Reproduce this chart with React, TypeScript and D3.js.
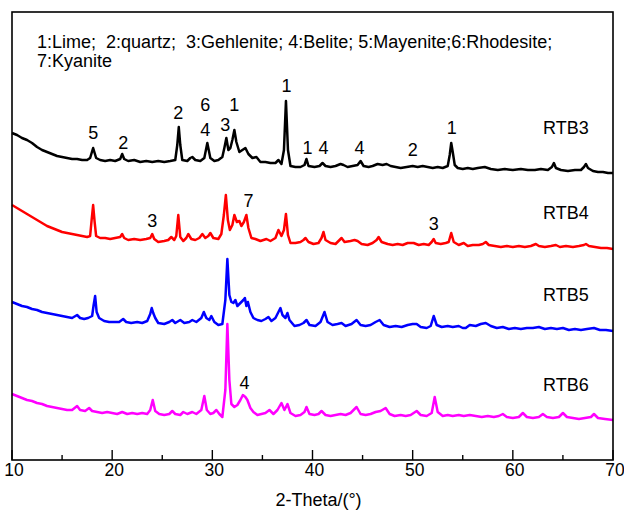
import React from "react";
import * as d3 from "d3";

// 2-Theta (deg) and intensity (a.u., stacked)
const rtb3Theta = [10,10.5,11,11.5,12,12.5,13,13.5,14,14.5,15,15.5,16,16.5,17,17.5,17.8,18.1,18.4,18.8,19.3,19.8,20.3,20.8,21.0,21.2,21.6,22.2,22.8,23.4,24,24.6,25.2,25.8,26.3,26.5,26.65,26.8,27.0,27.5,27.8,28.0,28.3,28.8,29.2,29.5,29.8,30.2,30.6,31.0,31.2,31.4,31.6,31.8,32.0,32.2,32.4,32.7,33.0,33.3,33.6,34.0,34.4,34.8,35.3,35.8,36.3,36.6,36.9,37.15,37.35,37.55,37.8,38.3,38.8,39.2,39.4,39.6,40.2,40.7,41.0,41.3,41.8,42.3,42.8,43.1,43.5,44.0,44.5,44.8,45.1,45.6,46.0,46.5,47.0,47.4,47.8,48.3,48.8,49.4,50.0,50.5,51.0,51.5,52.0,52.5,53.0,53.5,53.7,53.85,54.0,54.2,54.5,55.0,55.5,56.0,56.5,57.2,57.8,58.5,59.2,60.0,60.8,61.5,62.2,62.8,63.5,63.9,64.1,64.3,64.8,65.5,66.2,66.8,67.1,67.3,67.5,68.0,68.5,69.0,69.5,70.0];
const rtb3Int = [327,325,322,320,317,313,310,308,306,304,303,302,301,301,300,300,302,312,302,300,299,300,299,301,306,301,299,300,298,299,298,299,298,299,300,315,333,315,300,299,302,303,300,299,302,317,302,299,300,303,312,322,310,312,320,330,318,308,310,312,306,302,303,298,298,297,297,300,296,310,359,310,294,293,293,295,301,294,293,294,297,294,293,294,296,295,293,294,295,299,294,293,294,296,295,296,294,293,292,293,294,293,294,293,292,293,292,294,305,317,308,295,292,291,292,291,292,293,291,290,291,290,291,290,290,291,290,293,297,292,290,289,290,290,293,296,292,289,288,288,287,287];

const rtb4Theta = [10,10.5,11,11.5,12,12.5,13,13.5,14,14.5,15,15.5,16,16.5,17,17.5,17.8,17.95,18.1,18.25,18.4,18.8,19.3,19.8,20.3,20.8,21.0,21.2,21.6,22.2,22.8,23.4,23.8,24.0,24.2,24.6,25.2,25.6,25.9,26.2,26.4,26.6,26.8,27.1,27.4,27.6,27.9,28.3,28.7,29.0,29.3,29.6,29.8,30.1,30.6,30.9,31.15,31.35,31.55,31.75,32.0,32.2,32.45,32.7,32.9,33.15,33.4,33.6,33.9,34.3,34.8,35.1,35.4,35.8,36.3,36.6,36.9,37.15,37.35,37.55,37.8,38.3,38.8,39.1,39.3,39.6,40.1,40.6,40.9,41.1,41.3,41.8,42.3,42.7,42.9,43.2,43.8,44.2,44.5,44.9,45.5,46.0,46.4,46.6,46.9,47.5,48.0,48.5,49.0,49.5,50.1,50.6,51.1,51.6,51.9,52.1,52.3,52.8,53.3,53.6,53.85,54.1,54.6,55.1,55.5,56.0,56.6,57.0,57.3,57.6,58.2,58.8,59.4,60.0,60.6,61.2,61.8,62.3,62.6,63.2,63.8,64.3,64.7,65.3,66.0,66.6,67.1,67.3,67.6,68.2,68.8,69.4,70.0];
const rtb4Int = [255,252,249,246,243,240,237,234,232,230,228,227,226,225,224,223,224,240,255,238,224,222,222,221,222,223,226,222,220,221,220,221,222,226,221,218,219,220,223,220,224,245,223,219,222,226,221,220,222,226,222,224,227,222,221,226,245,265,240,230,235,245,238,239,234,238,245,232,222,221,219,220,221,219,222,230,224,230,246,225,217,217,218,220,222,218,216,217,222,228,220,217,216,220,222,218,219,220,219,216,215,217,220,223,218,216,215,216,215,217,217,215,216,215,218,221,217,216,217,218,227,218,215,217,214,215,215,216,218,215,214,213,214,213,214,213,214,216,214,213,214,215,213,214,213,214,215,216,214,213,212,212,211];

const rtb5Theta = [10,10.5,11,11.5,12,12.5,13,13.5,14,14.5,15,15.5,16,16.5,16.8,17.2,17.6,18.0,18.15,18.3,18.45,18.7,19.2,19.7,20.2,20.7,21.1,21.4,21.9,22.5,23.0,23.5,23.8,23.95,24.1,24.3,24.6,25.2,25.7,26.0,26.3,26.8,27.2,27.7,28.0,28.4,28.9,29.15,29.4,29.7,29.9,30.2,30.6,31.0,31.3,31.5,31.7,31.9,32.1,32.3,32.5,32.7,32.9,33.1,33.25,33.4,33.55,33.8,34.1,34.5,34.9,35.3,35.6,35.9,36.3,36.6,36.8,37.0,37.3,37.5,37.7,38.2,38.7,39.1,39.4,39.7,40.3,40.8,41.2,41.5,42.0,42.5,42.9,43.3,43.9,44.4,44.8,45.3,45.8,46.3,46.7,47.1,47.7,48.3,48.9,49.5,50.0,50.4,50.8,51.4,51.8,52.1,52.4,52.9,53.5,54.0,54.6,55.0,55.3,55.7,56.3,56.8,57.3,57.8,58.4,59.0,59.6,60.2,60.8,61.4,62.0,62.6,63.2,63.8,64.4,65.0,65.6,66.2,66.8,67.4,68.1,68.7,69.3,70.0];
const rtb5Int = [158,156,154,153,151,150,148,147,146,145,144,143,142,145,142,141,142,144,155,164,148,142,139,138,138,138,141,138,137,138,137,139,146,152,147,142,137,136,138,140,137,140,137,138,140,138,142,148,142,140,144,138,135,136,160,201,165,158,157,160,154,156,158,160,162,154,158,148,142,140,139,141,143,139,142,148,152,145,142,147,140,134,135,137,140,135,134,138,148,138,135,136,137,134,136,140,135,134,135,138,140,135,133,134,133,135,136,136,133,132,134,144,135,133,134,133,134,132,132,135,134,136,137,134,132,133,131,132,131,132,132,133,131,132,131,132,130,131,130,131,132,130,130,129];

const rtb6Theta = [10,10.5,11,11.5,12,12.5,13,13.5,14,14.5,15,15.5,16,16.5,16.8,17.3,17.7,18.0,18.5,19.0,19.5,20.0,20.5,21.0,21.5,22.0,22.5,23.0,23.5,23.8,24.05,24.3,24.7,25.2,25.7,26.0,26.3,26.8,27.1,27.5,28.0,28.4,28.9,29.2,29.45,29.8,30.1,30.4,30.7,31.0,31.3,31.5,31.7,31.9,32.2,32.5,32.8,33.05,33.3,33.5,33.8,34.1,34.5,34.9,35.3,35.7,36.1,36.5,36.9,37.2,37.5,37.8,38.3,38.8,39.2,39.4,39.7,40.2,40.6,40.9,41.3,41.8,42.3,42.8,43.3,43.8,44.4,44.8,45.3,45.8,46.3,46.8,47.3,47.7,48.2,48.8,49.3,49.8,50.4,50.8,51.4,51.9,52.2,52.5,53.0,53.5,54.0,54.6,55.1,55.7,56.3,56.9,57.5,58.1,58.6,59.0,59.4,60.0,60.6,61.0,61.4,62.0,62.6,63.0,63.4,64.0,64.6,65.0,65.4,66.0,66.6,67.2,67.8,68.1,68.5,69.2,70.0];
const rtb6Int = [66,64,62,60,59,57,56,54,53,52,51,50,50,54,50,49,52,49,48,47,48,47,46,48,46,47,46,47,46,50,60,49,46,45,46,49,46,45,48,46,48,46,50,64,50,46,47,50,46,43,70,136,80,56,53,55,60,65,63,60,52,48,45,46,47,50,46,50,57,50,56,47,44,45,48,53,46,45,46,49,45,44,45,46,45,47,53,46,45,46,48,49,52,46,44,45,44,45,49,45,44,47,63,48,44,45,44,45,44,45,44,43,44,43,44,46,43,42,43,47,43,42,43,46,43,42,43,47,43,42,41,42,43,46,42,41,40];

const seriesNames = ["RTB3", "RTB4", "RTB5", "RTB6"];
const seriesColors = ["#000000", "#ff0000", "#0000ff", "#ff00ff"];
const seriesLabelTheta = [65.3, 65.3, 65.3, 65.3];
const seriesLabelInt = [332, 247, 165, 75];

// peak annotations: phase number, 2-theta, intensity position
const peakLabels = ["5","2","2","6","4","3","1","1","1","4","4","2","1","3","7","3","4"];
const peakTheta = [18.1,21.1,26.6,29.3,29.3,31.3,32.2,37.4,39.5,41.1,44.7,50.0,53.9,24.0,33.6,52.1,33.2];
const peakInt = [327,317,347,355,330,335,355,374,312,312,312,310,332,239,259,236,77];

const legendLines = ["1:Lime;  2:quartz;  3:Gehlenite; 4:Belite; 5:Mayenite;6:Rhodesite;", "7:Kyanite"];
const xTicks = [10, 20, 30, 40, 50, 60, 70];
const xMinorTicks = [15, 25, 35, 45, 55, 65];
const xTitle = "2-Theta/(°)";

const W = 624, H = 511;
const left = 12, right = 613, top = 12, bottom = 460;
const FONT = "Arial, 'Liberation Sans', sans-serif";

export default function App() {
  const x = d3.scaleLinear().domain([10, 70]).range([left, right]);
  const y = d3.scaleLinear().domain([0, 448]).range([bottom, top]);
  const thetas = [rtb3Theta, rtb4Theta, rtb5Theta, rtb6Theta];
  const ints = [rtb3Int, rtb4Int, rtb5Int, rtb6Int];
  const line = d3.line<[number, number]>().x(d => x(d[0])).y(d => y(d[1]));

  return (
    <svg width={W} height={H} style={{ position: "fixed", left: 0, top: 0, background: "#fff" }} fontFamily={FONT}>
      <rect x={0} y={0} width={W} height={H} fill="#fff" />
      {thetas.map((t, i) => (
        <path key={i} d={line(t.map((v, j) => [v, ints[i][j]]) as [number, number][]) || ""}
          fill="none" stroke={seriesColors[i]} strokeWidth={2.5} strokeLinejoin="round" />
      ))}
      <rect x={left} y={top} width={right - left} height={bottom - top} fill="none" stroke="#000" strokeWidth={1.6} />
      {xTicks.map(t => (
        <g key={t}>
          <line x1={x(t)} x2={x(t)} y1={bottom} y2={bottom - 10} stroke="#000" strokeWidth={1.4} />
          <text x={x(t) + 2} y={476} textAnchor="middle" fontSize={17.5}>{t}</text>
        </g>
      ))}
      {xMinorTicks.map(t => (
        <line key={t} x1={x(t)} x2={x(t)} y1={bottom} y2={bottom - 5} stroke="#000" strokeWidth={1.4} />
      ))}
      <text x={(left + right) / 2 + 6} y={506} textAnchor="middle" fontSize={18}>{xTitle}</text>
      {legendLines.map((l, i) => (
        <text key={i} x={37} y={48 + i * 19} fontSize={18} style={{ whiteSpace: "pre" }}>{l}</text>
      ))}
      {seriesNames.map((n, i) => (
        <text key={n} x={x(seriesLabelTheta[i])} y={y(seriesLabelInt[i])} textAnchor="middle" dominantBaseline="central" fontSize={18}>{n}</text>
      ))}
      {peakLabels.map((l, i) => (
        <text key={i} x={x(peakTheta[i])} y={y(peakInt[i])} textAnchor="middle" dominantBaseline="central" fontSize={18}>{l}</text>
      ))}
    </svg>
  );
}
